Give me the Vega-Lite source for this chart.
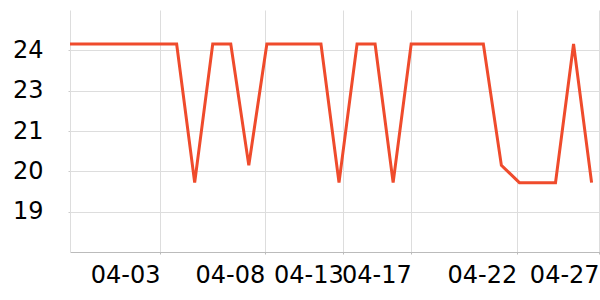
{
  "$schema": "https://vega.github.io/schema/vega-lite/v6.json",
  "width": 530,
  "height": 242,
  "autosize": "none",
  "padding": {"left": 70, "top": 10, "right": 0, "bottom": 48},
  "background": "white",
  "config": {"view": {"stroke": null}},
  "data": {
    "values": [
      {"date": "2024-03-29", "value": 24.1},
      {"date": "2024-03-30", "value": 24.1},
      {"date": "2024-03-31", "value": 24.1},
      {"date": "2024-04-01", "value": 24.1},
      {"date": "2024-04-02", "value": 24.1},
      {"date": "2024-04-03", "value": 24.1},
      {"date": "2024-04-04", "value": 24.1},
      {"date": "2024-04-05", "value": 19.7},
      {"date": "2024-04-06", "value": 24.1},
      {"date": "2024-04-07", "value": 24.1},
      {"date": "2024-04-08", "value": 20.25},
      {"date": "2024-04-09", "value": 24.1},
      {"date": "2024-04-10", "value": 24.1},
      {"date": "2024-04-11", "value": 24.1},
      {"date": "2024-04-12", "value": 24.1},
      {"date": "2024-04-13", "value": 19.7},
      {"date": "2024-04-14", "value": 24.1},
      {"date": "2024-04-15", "value": 24.1},
      {"date": "2024-04-16", "value": 19.7},
      {"date": "2024-04-17", "value": 24.1},
      {"date": "2024-04-18", "value": 24.1},
      {"date": "2024-04-19", "value": 24.1},
      {"date": "2024-04-20", "value": 24.1},
      {"date": "2024-04-21", "value": 24.1},
      {"date": "2024-04-22", "value": 20.25},
      {"date": "2024-04-23", "value": 19.7},
      {"date": "2024-04-24", "value": 19.7},
      {"date": "2024-04-25", "value": 19.7},
      {"date": "2024-04-26", "value": 24.1},
      {"date": "2024-04-27", "value": 19.7}
    ]
  },
  "mark": {"type": "line", "color": "#ef4b2c", "strokeWidth": 3, "clip": true},
  "encoding": {
    "x": {
      "field": "date",
      "type": "temporal",
      "title": null,
      "scale": {
        "type": "utc",
        "domain": [
          {"year": 2024, "month": 3, "date": 29, "hours": 2, "minutes": 8, "utc": true},
          {"year": 2024, "month": 4, "date": 27, "hours": 11, "minutes": 11, "utc": true}
        ]
      },
      "axis": {
        "values": [
          {"year": 2024, "month": 4, "date": 3, "hours": 1, "minutes": 52, "utc": true},
          {"year": 2024, "month": 4, "date": 8, "hours": 21, "minutes": 9, "utc": true},
          {"year": 2024, "month": 4, "date": 13, "hours": 5, "minutes": 43, "utc": true},
          {"year": 2024, "month": 4, "date": 17, "hours": 0, "minutes": 10, "utc": true},
          {"year": 2024, "month": 4, "date": 22, "hours": 20, "minutes": 25, "utc": true},
          {"year": 2024, "month": 4, "date": 27, "hours": 10, "minutes": 0, "utc": true}
        ],
        "labelExpr": "utcFormat(datum.value, '%m-%d')",
        "labelAlign": "right",
        "labelBaseline": "top",
        "labelFont": "DejaVu Sans",
        "labelFontSize": 24,
        "labelColor": "#000000",
        "labelPadding": 9,
        "labelOverlap": false,
        "labelBound": false,
        "labelFlush": false,
        "grid": true,
        "gridColor": "#dddddd",
        "domainColor": "#bbbbbb",
        "tickColor": "#bbbbbb",
        "tickSize": 2
      }
    },
    "y": {
      "field": "value",
      "type": "quantitative",
      "title": null,
      "scale": {"domain": [17.5, 25.18], "nice": false, "zero": false},
      "axis": {
        "values": [18.78, 20.06, 21.34, 22.62, 23.9],
        "format": ".0f",
        "labelFont": "DejaVu Sans",
        "labelFontSize": 24,
        "labelColor": "#000000",
        "labelPadding": 25,
        "labelBaseline": "middle",
        "grid": true,
        "gridColor": "#dddddd",
        "domainColor": "#dddddd",
        "tickColor": "#cccccc",
        "tickSize": 2
      }
    }
  }
}
